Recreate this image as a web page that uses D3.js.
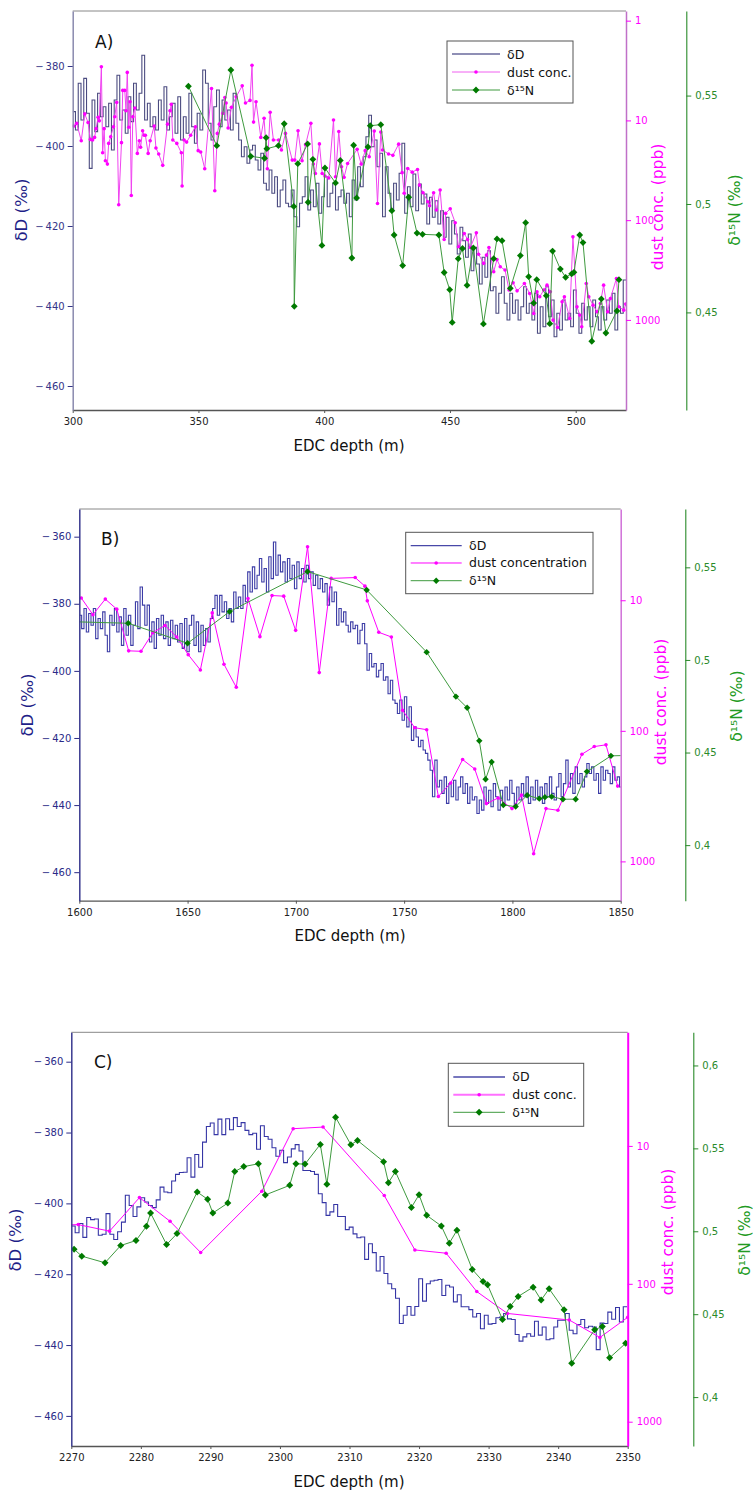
<!DOCTYPE html>
<html lang="en">
<head>
<meta charset="UTF-8">
<title>EDC dD, dust and d15N</title>
<style>
  body { margin: 0; background: #fff; }
  svg { display: block; font-family: "DejaVu Sans", sans-serif; }
</style>
</head>
<body>
<script src="https://d3js.org/d3.v7.min.js"></script>
<script>

// ---------- panel A data (300-520 m) ----------
const aDDStart = 300, aDDStep = 1.1;
const aDD = [
  -391.4,-396.0,-384.3,-393.5,-383.1,-391.8,-405.6,-388.5,-396.4,-386.8,
  -392.7,-390.2,-395.2,-389.3,-401.0,-388.5,-382.3,-393.5,-391.0,-396.8,
  -387.7,-393.9,-384.3,-391.0,-386.8,-377.3,-393.5,-389.3,-395.2,-392.7,
  -396.0,-388.5,-393.5,-385.2,-396.0,-392.7,-389.3,-396.8,-387.7,-398.5,
  -392.7,-396.8,-386.8,-395.2,-399.3,-391.8,-396.0,-381.0,-384.3,-394.3,
  -398.5,-390.2,-386.0,-395.2,-388.5,-393.5,-391.0,-396.0,-386.8,-394.3,
  -398.5,-402.7,-400.2,-404.3,-401.0,-399.8,-403.5,-406.0,-401.8,-409.3,
  -411.0,-406.0,-411.8,-407.7,-415.2,-411.0,-408.5,-414.3,-415.2,-411.0,
  -417.7,-420.2,-414.3,-412.7,-407.7,-416.0,-411.0,-415.2,-409.3,-416.8,
  -412.7,-407.7,-415.2,-411.8,-409.3,-416.0,-412.7,-411.0,-414.3,-411.8,
  -417.7,
  -408.5,-413.5,-405.2,-410.2,-402.7,-397.7,-392.3,-400.2,-398.5,-405.2,
  -401.8,-417.7,-405.2,-411.8,-416.0,-409.3,-413.5,-406.8,-399.3,-416.8,
  -410.2,-415.2,-407.0,-416.2,-409.5,-414.5,-412.0,-419.5,-412.8,-417.8,
  -413.7,-419.5,-416.2,-422.8,-417.8,-424.5,-418.7,-422.0,-427.0,-420.3,
  -423.7,-427.8,-422.0,-431.2,-425.3,-429.5,-434.5,-427.8,-432.8,-426.2,
  -436.2,-435.2,-441.8,-436.8,-432.7,-439.3,-443.5,-436.8,-441.8,-438.5,
  -443.5,-440.2,-435.2,-441.8,-439.3,-443.5,-436.8,-446.8,-440.2,-445.2,
  -435.2,-442.7,-438.5,-447.7,-441.8,-446.0,-438.5,-443.5,-441.8,-445.2,
  -436.0,-441.8,-446.8,-439.3,-443.5,-440.2,-445.2,-438.5,-442.7,-446.0,
  -440.2,-443.5,-438.5,-441.8,-436.8,-446.0,-440.2,-441.8,-433.5
];
const aDustDepth = [
  300.4,301.6,303.4,304.8,306.1,307.0,307.9,308.7,309.3,310.1,310.6,311.4,311.9,312.5,313.0,313.8,
  314.3,315.1,316.2,316.7,317.5,318.3,319.4,319.9,320.7,321.2,321.7,322.3,322.8,323.3,323.9,324.7,
  325.7,326.5,327.0,327.8,328.4,328.9,330.0,330.8,332.4,333.1,334.2,335.8,337.7,338.7,339.2,339.8,
  341.4,343.2,343.5,344.3,345.3,346.9,348.8,349.9,350.9,352.5,355.2,356.5,357.5,358.3,359.7,360.5,
  361.0,361.8,363.1,365.0,367.4,368.7,370.5,371.3,371.9,372.9,374.8,376.1,377.4,378.5,379.8,381.9,
  383.0,384.6,387.3,388.3,389.6,391.2,392.6,394.7,395.7,396.5,398.1,399.2,400.3,401.8,403.7,404.5,
  405.8,406.9,407.9,409.3,413.1,414.7,416.3,417.9,419.9,421.2,422.5,423.2,425.6,427.3,429.6,431.0,
  431.8,433.2,435.0,437.1,437.9,439.3,441.2,441.9,443.5,444.6,446.1,447.7,448.3,450.1,452.1,453.4,
  455.7,457.0,458.1,460.5,461.4,463.4,464.5,465.5,467.4,468.7,470.0,471.9,473.5,475.1,476.7,479.6,
  481.7,483.3,484.6,485.7,487.3,488.6,489.9,491.0,492.8,494.6,495.5,497.6,498.9,500.5,501.6,502.4,
  504.2,505.2,506.9,508.5,509.8,511.1,512.7,513.8,516.2,517.1,519.1,519.9
];
const aDust = [
  11.4,10.7,16.0,8.6,10.5,15.5,15.7,14.8,12.1,9.3,10.1,2.9,21.1,12.1,25.4,27.4,
  17.0,14.6,11.6,9.2,6.6,70.0,16.7,5.0,5.0,8.0,3.3,11.7,6.5,56.5,9.2,7.5,
  21.4,16.0,18.6,12.7,14.1,14.1,21.4,16.0,11.4,18.9,21.7,28.2,10.9,8.0,6.9,15.7,
  17.0,21.1,45.5,15.7,16.5,14.1,11.6,20.1,20.7,30.5,4.8,50.7,13.5,10.9,8.5,5.9,
  6.7,11.9,7.4,5.8,4.5,6.7,6.3,2.8,10.4,6.5,14.8,9.5,30.5,8.3,15.7,15.7,
  19.8,13.5,25.0,25.0,12.7,25.4,17.5,10.7,27.4,34.0,17.2,34.0,36.1,37.8,9.9,36.7,
  12.9,29.1,37.2,27.0,19.5,27.4,20.1,23.1,12.8,68.0,13.1,19.8,21.7,22.4,17.3,33.4,
  53.8,30.3,33.0,31.0,44.5,53.1,65.3,71.6,53.1,79.2,49.9,156,85.5,76.9,106,185,
  136,156,188,134,220,271,224,188,329,248,293,316,502,424,511,431,
  543,861,523,586,502,448,523,1004,1191,658,586,966,147,738,895,1172,
  431,586,711,830,684,448,830,610,384,738,798,694
];
const aNDepth = [
  346.0,357.3,362.9,370.8,376.3,376.9,377.2,381.8,384.1,387.9,388.1,389.5,393.4,393.6,395.5,399.1,
  400.3,404.5,406.4,411.0,411.7,412.9,417.4,418.3,422.5,426.9,427.8,431.2,433.6,436.9,439.1,445.6,
  447.7,449.9,450.9,453.3,455.0,456.8,459.3,463.3,467.4,468.7,470.7,474.0,478.0,480.1,481.3,483.3,
  484.5,488.3,489.7,490.8,493.9,496.0,498.4,499.3,501.6,502.9,506.4,510.2,512.0,516.4,517.2
];
const aN = [
  0.5543,0.5269,0.5618,0.5220,0.5211,0.5306,0.5255,0.5269,0.5370,0.4989,0.4528,0.5186,0.5277,0.5008,0.5206,0.4809,
  0.5166,0.5097,0.5201,0.4751,0.5271,0.5028,0.5263,0.5361,0.5366,0.4969,0.4857,0.4716,0.5031,0.4866,0.4860,0.4857,
  0.4684,0.4605,0.4454,0.4748,0.4795,0.4625,0.4797,0.4447,0.4748,0.4839,0.4831,0.4611,0.4762,0.4914,0.4665,0.4543,
  0.4651,0.4577,0.4448,0.4783,0.4700,0.4662,0.4678,0.4685,0.4857,0.4822,0.4367,0.4562,0.4405,0.4507,0.4651
];

// ---------- panel B data (1600-1850 m) ----------
const bDDStart = 1600, bDDStep = 1.08;
const bDD = [
  -383.4,-387.4,-381.4,-388.4,-382.9,-386.4,-381.4,-390.4,-384.4,-387.4,
  -382.4,-389.4,-394.3,-383.4,-386.4,-381.4,-388.4,-383.9,-392.4,-381.4,
  -389.4,-383.4,-392.4,-386.4,-379.4,-387.4,-375.0,-380.4,-386.4,-380.4,
  -391.4,-385.4,-393.3,-384.4,-389.4,-383.4,-390.4,-385.4,-392.4,-384.9,
  -390.4,-386.4,-391.4,-385.9,-393.3,-384.4,-394.3,-386.4,-383.4,-392.4,
  -385.4,-394.3,-386.4,-392.4,-387.4,-391.4,-384.4,-381.4,-377.5,-383.4,
  -377.5,-382.4,-379.4,-384.4,-381.4,-385.4,-376.5,-381.4,-378.0,-381.4,
  -374.5,-379.4,-370.5,-376.5,-369.0,-375.5,-371.5,-366.5,-373.5,-369.5,
  -376.5,-366.0,-372.5,-361.6,-371.5,-365.5,-370.5,-367.5,-373.5,-366.5,
  -372.5,-368.5,-375.5,-367.5,-372.5,-369.5,-373.5,-368.5,-372.5,-370.5,
  -374.5,-371.5,-375.5,-372.5,-376.5,-374.0,-380.4,-375.0,-379.4,-376.5,
  -386.4,-381.4,-385.4,-382.4,-386.4,-388.4,-385.4,-387.4,-386.4,-391.9,
  -387.9,-385.9,-391.9,-399.8,-394.8,-398.8,-397.8,-401.8,-399.8,-397.8,
  -402.8,-401.8,-406.8,-402.8,-408.7,-409.7,-412.7,-408.7,-414.7,-407.7,
  -416.7,-410.7,-420.7,-416.7,-419.7,-422.6,-420.7,-423.6,-424.6,-426.6,
  -429.6,-437.5,-426.6,-434.6,-432.6,-436.5,-431.6,-439.5,-433.6,-437.5,
  -432.6,-438.5,-434.6,-431.6,-436.5,-433.6,-439.5,-434.6,-438.5,-437.5,
  -442.5,-438.5,-441.5,-434.6,-439.5,-435.6,-440.5,-433.6,-437.5,-441.5,
  -435.6,-439.5,-434.6,-438.5,-432.6,-436.5,-440.5,-434.6,-438.5,-433.6,
  -437.5,-431.6,-439.5,-434.6,-438.5,-432.6,-437.5,-434.6,-439.5,-433.6,
  -437.5,-431.6,-436.5,-438.5,-434.6,-430.6,-437.5,-433.6,-426.6,-434.6,
  -430.6,-436.5,-428.6,-433.6,-430.6,-434.6,-431.6,-427.6,-430.6,-428.6,
  -432.6,-430.6,-436.5,-428.6,-432.6,-429.6,-430.6,-433.6,-428.6,-432.6,
  -431.6,-434.6
];
const bDustDepth = [
  1600.9,1606.3,1612.0,1617.3,1622.8,1628.5,1634.0,1639.6,1645.0,1650.3,1655.9,1661.4,1666.8,1672.5,1677.9,
  1683.4,1689.0,1694.4,1699.9,1705.4,1710.8,1716.3,1727.4,1731.9,1733.0,1738.3,1744.1,1749.3,1754.9,1760.4,
  1765.8,1771.5,1777.0,1782.6,1788.0,1793.4,1799.8,1804.2,1809.8,1815.5,1821.0,1832.1,1837.8,1843.2,1848.6
];
const bDust = [
  9.6,12.9,9.8,11.7,24.4,24.6,17.7,15.6,19.1,26.1,34.2,12.5,30.9,46.4,9.7,
  19.0,9.2,9.3,17.0,3.9,35.8,6.8,6.7,7.8,10.1,17.6,19.1,69.7,94.7,98,
  318,251,166,196,361,327,394,310,873,394,406,151,132,128,265
];
const bNDepth = [
  1595,1622.6,1650.0,1669.4,1705.4,1732.7,1760.4,1773.9,1779.1,1784.7,1787.6,1790.4,
  1795.8,1801.5,1806.8,1812.4,1815.0,1818.1,1823.3,1829.2,1834.4,1845.5,1855
];
const bN = [
  0.5207,0.5198,0.5090,0.5261,0.5477,0.5378,0.5042,0.4802,0.4742,0.4563,0.4356,0.4449,
  0.4217,0.4208,0.4269,0.4251,0.4259,0.4262,0.4248,0.4248,0.4397,0.4482,0.4485
];

// ---------- panel C data (2270-2350 m) ----------
const cDDStart = 2270, cDDStep = 0.555;
const cDD = [
  -406.4,-408.3,-405.7,-409.6,-404.0,-404.6,-404.4,-409.0,-408.7,-402.9,
  -408.7,-410.2,-408.0,-405.3,-397.7,-400.6,-403.7,-401.0,-398.4,-399.6,
  -400.6,-401.2,-399.0,-395.4,-396.8,-397.0,-393.7,-391.8,-391.3,-391.2,
  -387.1,-392.6,-386.2,-389.8,-382.7,-378.3,-377.3,-380.6,-376.2,-380.6,
  -376.1,-379.2,-375.8,-378.3,-377.2,-379.4,-380.6,-380.2,-384.7,-378.1,
  -381.1,-381.9,-384.3,-386.7,-385.0,-388.5,-386.9,-384.6,-383.4,-385.2,
  -390.7,-390.7,-391.0,-391.8,-397.3,-399.8,-403.4,-402.4,-400.3,-403.7,
  -403.7,-407.4,-406.7,-408.6,-409.7,-409.5,-415.8,-411.4,-413.9,-419.1,
  -415.0,-419.8,-422.7,-424.1,-426.8,-433.9,-431.6,-429.1,-431.6,-429.1,
  -421.3,-427.6,-422.7,-421.9,-421.7,-421.5,-426.0,-423.1,-423.6,-427.8,
  -425.8,-429.2,-429.2,-430.0,-432.1,-431.1,-435.4,-431.6,-434.1,-433.9,
  -432.3,-432.1,-431.1,-432.6,-432.8,-437.0,-438.9,-437.7,-436.8,-437.5,
  -433.3,-437.2,-434.9,-438.5,-438.2,-434.9,-433.0,-433.0,-431.1,-435.8,
  -436.8,-434.2,-432.8,-435.1,-434.7,-434.9,-441.3,-433.8,-433.9,-430.7,
  -432.7,-429.4,-433.5,-429.2
];
const cDustDepth = [2268.5,2271.0,2275.5,2279.8,2284.2,2288.6,2297.4,2301.9,2306.2,2315.0,2319.4,2323.9,2328.3,2332.7,2341.6,2346.0,2350.0];
const cDust = [37.5,37.2,41.5,23.7,35.2,59.3,21.3,7.5,7.3,22.9,56.8,60.0,113.8,164,183,245,175];
const cNDepth = [
  2270.4,2271.5,2274.85,2277.1,2279.3,2280.8,2281.4,2283.7,2285.2,2288.1,2289.6,2290.35,2292.5,
  2293.5,2294.8,2296.9,2297.9,2301.4,2302.3,2303.6,2305.8,2306.75,2308.0,2310.2,2311.15,
  2314.9,2315.6,2316.6,2318.9,2320.0,2321.1,2323.2,2324.35,2325.45,2327.65,2329.2,2329.85,
  2332.0,2333.1,2334.25,2336.4,2337.55,2338.7,2340.85,2341.95,2345.25,2346.35,2347.4,2349.7
];
const cN = [
  0.4892,0.4850,0.4810,0.4914,0.4944,0.5030,0.5110,0.4920,0.4986,0.5237,0.5193,0.5110,0.5170,
  0.5360,0.5390,0.5407,0.5219,0.5277,0.5407,0.5405,0.5524,0.5283,0.5688,0.5522,0.5548,
  0.5420,0.5293,0.5360,0.5144,0.5220,0.5096,0.5032,0.4928,0.5006,0.4770,0.4697,0.4677,
  0.4468,0.4547,0.4607,0.4663,0.4585,0.4653,0.4526,0.4204,0.4406,0.4426,0.4237,0.4324
];

// ---------- ticks and labels ----------
const aXTicks = [300, 350, 400, 450, 500];
const bXTicks = [1600, 1650, 1700, 1750, 1800, 1850];
const cXTicks = [2270, 2280, 2290, 2300, 2310, 2320, 2330, 2340, 2350];
const aDTicks = [-460, -440, -420, -400, -380];
const bcDTicks = [-460, -440, -420, -400, -380, -360];
const aDustTicks = [1, 10, 100, 1000];
const bcDustTicks = [10, 100, 1000];
const aNTicks = [0.45, 0.5, 0.55];
const bNTicks = [0.4, 0.45, 0.5, 0.55];
const cNTicks = [0.4, 0.45, 0.5, 0.55, 0.6];
const legendA = ["δD", "dust conc.", "δ¹⁵N"];
const legendB = ["δD", "dust concentration", "δ¹⁵N"];

const svg = d3.select("body").append("svg")
    .attr("width", 753)
    .attr("height", 1493);

const DUST = "#ff00ff", GREEN_LINE = "#3f9a3f", GREEN_MARK = "#007a00", N_TEXT = "#2a8a2a";
const TICK_FONT = "10px";

const diamond = r => `M0,${-r}L${r},0L0,${r}L${-r},0Z`;
const minusFmt = v => v < 0 ? "\u2212\u2009" + Math.abs(v) : String(v);

function stepPoints(start, step, vals) {
    const pts = vals.map((v, i) => [start + i * step, v]);
    pts.push([start + vals.length * step, vals[vals.length - 1]]);
    return pts;
}

function drawPanel(p) {
    const g = svg.append("g");
    const x = d3.scaleLinear().domain(p.xDomain).range([p.left, p.right]);
    const yD = d3.scaleLinear().domain(p.dDomain).range([p.bottom, p.top]);
    const yDust = d3.scaleLog().domain(p.dustDomain).range([p.top, p.bottom]);
    const yN = d3.scaleLinear().domain(p.nDomain).range([p.bottom, p.top]);

    const clipId = "clip" + p.name;
    g.append("clipPath").attr("id", clipId)
        .append("rect")
        .attr("x", p.left).attr("y", p.top)
        .attr("width", p.right - p.left).attr("height", p.bottom - p.top);

    const plot = g.append("g").attr("clip-path", `url(#${clipId})`);

    // dD step line
    plot.append("path")
        .datum(stepPoints(p.ddStart, p.ddStep, p.dd))
        .attr("fill", "none")
        .attr("stroke", p.ddColor)
        .attr("stroke-width", 1.1)
        .attr("d", d3.line().curve(d3.curveStepAfter).x(d => x(d[0])).y(d => yD(d[1])));

    // dust
    const dust = p.dustDepth.map((d, i) => [d, p.dust[i]]);
    plot.append("path")
        .datum(dust)
        .attr("fill", "none")
        .attr("stroke", p.dustColor)
        .attr("stroke-width", 1)
        .attr("d", d3.line().x(d => x(d[0])).y(d => yDust(d[1])));
    plot.selectAll(".dustpt")
        .data(dust)
        .enter()
        .append("circle")
        .attr("cx", d => x(d[0]))
        .attr("cy", d => yDust(d[1]))
        .attr("r", 1.8)
        .attr("fill", DUST);

    // d15N
    const n15 = p.nDepth.map((d, i) => [d, p.n[i]]);
    plot.append("path")
        .datum(n15)
        .attr("fill", "none")
        .attr("stroke", GREEN_LINE)
        .attr("stroke-width", 1)
        .attr("d", d3.line().x(d => x(d[0])).y(d => yN(d[1])));
    plot.selectAll(".npt")
        .data(n15)
        .enter()
        .append("path")
        .attr("transform", d => `translate(${x(d[0])},${yN(d[1])})`)
        .attr("d", diamond(p.markR))
        .attr("fill", GREEN_MARK);

    // frame: top line
    g.append("line")
        .attr("x1", p.left).attr("x2", p.right)
        .attr("y1", p.top).attr("y2", p.top)
        .attr("stroke", "#888").attr("stroke-width", 1);

    // bottom axis
    const xAxis = g.append("g")
        .attr("transform", `translate(0,${p.bottom})`)
        .call(d3.axisBottom(x).tickValues(p.xTicks).tickFormat(d3.format("d")).tickSize(3).tickSizeOuter(0).tickPadding(5));
    xAxis.select(".domain").attr("stroke", "#555").attr("stroke-width", 1.3);
    xAxis.selectAll(".tick line").attr("stroke", "#555");
    xAxis.selectAll("text").attr("fill", "#222").style("font-size", TICK_FONT).style("font-family", "DejaVu Sans");

    // left dD axis
    const dAxis = g.append("g")
        .attr("transform", `translate(${p.left},0)`)
        .call(d3.axisLeft(yD).tickValues(p.dTicks).tickFormat(minusFmt).tickSize(5).tickSizeOuter(0).tickPadding(3));
    dAxis.select(".domain").attr("stroke", p.leftSpine).attr("stroke-width", 1.5);
    dAxis.selectAll(".tick line").attr("stroke", p.dTickColor);
    dAxis.selectAll("text").attr("fill", p.dTickColor).style("font-size", TICK_FONT).style("font-family", "DejaVu Sans");

    // right dust axis
    const dustAxis = g.append("g")
        .attr("transform", `translate(${p.right},0)`)
        .call(d3.axisRight(yDust).tickValues(p.dustTicks).tickFormat(d3.format("d")).tickSize(5).tickSizeOuter(0).tickPadding(4));
    dustAxis.select(".domain").attr("stroke", p.rightSpine).attr("stroke-width", p.rightSpineW);
    dustAxis.selectAll(".tick line").attr("stroke", DUST);
    dustAxis.selectAll("text").attr("fill", DUST).style("font-size", TICK_FONT).style("font-family", "DejaVu Sans");

    // offset d15N axis
    const nAxis = g.append("g")
        .attr("transform", `translate(${p.nAxisX},0)`)
        .call(d3.axisRight(yN).tickValues(p.nTicks).tickFormat(v => String(v).replace(".", ",")).tickSize(5).tickSizeOuter(0).tickPadding(4));
    nAxis.select(".domain").attr("stroke", N_TEXT).attr("stroke-width", 1.1);
    nAxis.selectAll(".tick line").attr("stroke", N_TEXT);
    nAxis.selectAll("text").attr("fill", N_TEXT).style("font-size", TICK_FONT).style("font-family", "DejaVu Sans");

    // titles
    g.append("text")
        .attr("x", p.letter[0]).attr("y", p.letter[1])
        .style("font-size", "17px").attr("fill", "#111")
        .text(p.name + ")");
    g.append("text")
        .attr("x", p.xTitle[0]).attr("y", p.xTitle[1])
        .attr("text-anchor", "middle")
        .style("font-size", "15px").attr("fill", "#111")
        .text("EDC depth (m)");

    const rotTitle = (pos, txt, color, size) => g.append("text")
        .attr("transform", `translate(${pos[0]},${pos[1]}) rotate(-90)`)
        .attr("text-anchor", "middle")
        .attr("dominant-baseline", "central")
        .style("font-size", size)
        .attr("fill", color)
        .text(txt);
    rotTitle(p.dTitle, "δD (‰)", "#1f1f88", "16.5px");
    rotTitle(p.dustTitle, "dust conc. (ppb)", DUST, "15.5px");
    rotTitle(p.nTitle, "δ¹⁵N (‰)", "#229a22", "15.5px");

    // legend
    const lg = g.append("g").attr("transform", `translate(${p.legend.x},${p.legend.y})`);
    lg.append("rect")
        .attr("width", p.legend.w).attr("height", p.legend.h)
        .attr("fill", "#fff").attr("stroke", "#555").attr("stroke-width", 1);
    const rows = p.legend.rows;
    lg.append("line").attr("x1", p.legend.l0).attr("x2", p.legend.l1)
        .attr("y1", rows[0]).attr("y2", rows[0])
        .attr("stroke", p.ddLegendColor).attr("stroke-width", 1.3);
    lg.append("line").attr("x1", p.legend.l0).attr("x2", p.legend.l1)
        .attr("y1", rows[1]).attr("y2", rows[1])
        .attr("stroke", p.dustLegendColor).attr("stroke-width", p.dustLegendW);
    lg.append("circle").attr("cx", (p.legend.l0 + p.legend.l1) / 2).attr("cy", rows[1])
        .attr("r", 1.8).attr("fill", DUST);
    lg.append("line").attr("x1", p.legend.l0).attr("x2", p.legend.l1)
        .attr("y1", rows[2]).attr("y2", rows[2])
        .attr("stroke", GREEN_LINE).attr("stroke-width", 1);
    lg.append("path")
        .attr("transform", `translate(${(p.legend.l0 + p.legend.l1) / 2},${rows[2]})`)
        .attr("d", diamond(p.markR)).attr("fill", GREEN_MARK);
    lg.selectAll(".lt")
        .data(p.legendText)
        .enter()
        .append("text")
        .attr("x", p.legend.tx)
        .attr("y", (d, i) => rows[i])
        .attr("dominant-baseline", "central")
        .style("font-size", "12.5px")
        .attr("fill", "#111")
        .text(d => d);
}

drawPanel({
    name: "A",
    left: 72.7, right: 626, top: 11, bottom: 410, nAxisX: 686.3,
    xDomain: [300, 520], dDomain: [-466, -366.25], dustDomain: [0.8, 8000], nDomain: [0.405, 0.589],
    ddStart: aDDStart, ddStep: aDDStep, dd: aDD,
    dustDepth: aDustDepth, dust: aDust, nDepth: aNDepth, n: aN,
    xTicks: aXTicks, dTicks: aDTicks, dustTicks: aDustTicks, nTicks: aNTicks,
    ddColor: "#4b4b80", ddLegendColor: "#6a6a9c", dustColor: "#f044f0", dustLegendColor: "#f060f0", dustLegendW: 1,
    leftSpine: "#8a8aae", dTickColor: "#343488", rightSpine: "#c070c8", rightSpineW: 1.5, markR: 3.4,
    letter: [95, 48], xTitle: [349, 451], dTitle: [21, 210], dustTitle: [658, 207], nTitle: [735, 210],
    legend: { x: 447, y: 41, w: 126, h: 62, rows: [13, 31, 49], l0: 5, l1: 53, tx: 60 },
    legendText: legendA
});

drawPanel({
    name: "B",
    left: 79.3, right: 620.7, top: 509, bottom: 900.7, nAxisX: 685.3,
    xDomain: [1600, 1850], dDomain: [-468.5, -351.75], dustDomain: [2, 2000], nDomain: [0.37, 0.5815],
    ddStart: bDDStart, ddStep: bDDStep, dd: bDD,
    dustDepth: bDustDepth, dust: bDust, nDepth: bNDepth, n: bN,
    xTicks: bXTicks, dTicks: bcDTicks, dustTicks: bcDustTicks, nTicks: bNTicks,
    ddColor: "#3c3ca6", ddLegendColor: "#4848a8", dustColor: DUST, dustLegendColor: DUST, dustLegendW: 1,
    leftSpine: "#3a3a90", dTickColor: "#2a2a88", rightSpine: "#d070d8", rightSpineW: 1.5, markR: 3.2,
    letter: [101, 545], xTitle: [350, 941], dTitle: [27, 705], dustTitle: [661, 702], nTitle: [737, 706],
    legend: { x: 405.7, y: 532.3, w: 187.3, h: 61.4, rows: [13.4, 30.7, 48.4], l0: 5, l1: 56, tx: 63.3 },
    legendText: legendB
});

drawPanel({
    name: "C",
    left: 71.3, right: 627.7, top: 1032.3, bottom: 1446, nAxisX: 693.3,
    xDomain: [2270, 2350], dDomain: [-468.5, -351.7], dustDomain: [1.5, 1500], nDomain: [0.3705, 0.62],
    ddStart: cDDStart, ddStep: cDDStep, dd: cDD,
    dustDepth: cDustDepth, dust: cDust, nDepth: cNDepth, n: cN,
    xTicks: cXTicks, dTicks: bcDTicks, dustTicks: bcDustTicks, nTicks: cNTicks,
    ddColor: "#3535a5", ddLegendColor: "#4a4aa8", dustColor: DUST, dustLegendColor: "#ff70ff", dustLegendW: 2,
    leftSpine: "#3a3a90", dTickColor: "#2a2a88", rightSpine: DUST, rightSpineW: 2, markR: 3.5,
    letter: [94, 1068], xTitle: [349, 1487], dTitle: [15, 1240], dustTitle: [668, 1232], nTitle: [745, 1240],
    legend: { x: 448.3, y: 1063.3, w: 135.4, h: 63, rows: [13.7, 31.4, 49], l0: 5, l1: 56.7, tx: 64 },
    legendText: legendA
});

</script>
</body>
</html>
